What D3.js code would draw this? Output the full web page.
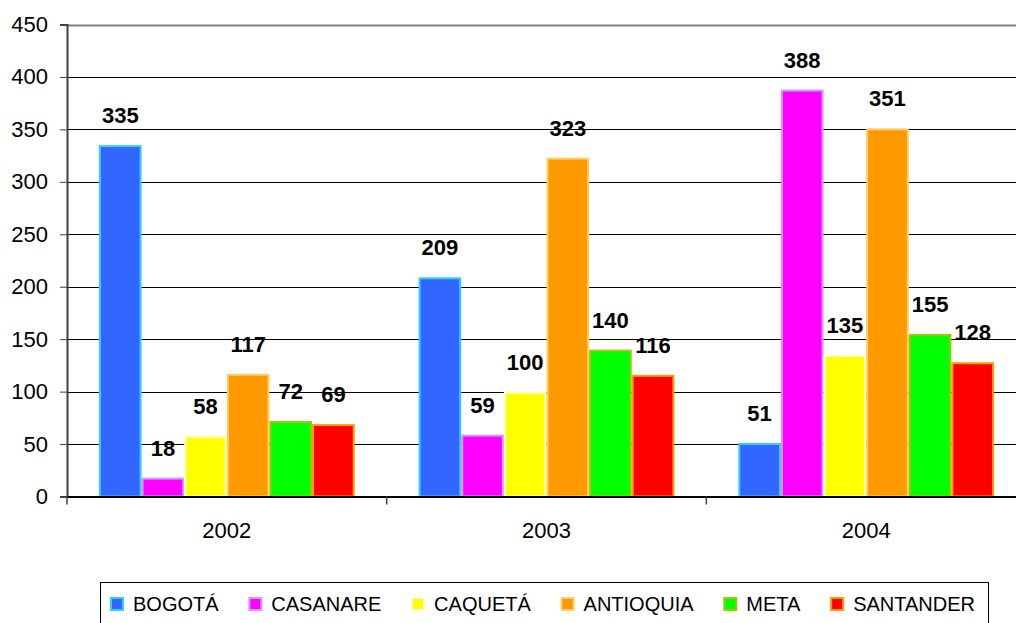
<!DOCTYPE html>
<html>
<head>
<meta charset="utf-8">
<script src="https://cdn.jsdelivr.net/npm/d3@7"></script>
<style>
  body { margin: 0; background: #fff; }
  svg { display: block; font-family: "Liberation Sans", Arial, sans-serif; }
</style>
</head>
<body>
<svg width="1016" height="623"></svg>
<script>
"use strict";

// data
var years = ["2002", "2003", "2004"];
var regions = ["BOGOTÁ", "CASANARE", "CAQUETÁ", "ANTIOQUIA", "META", "SANTANDER"];
var bogota    = [335, 209, 51];
var casanare  = [18, 59, 388];
var caqueta   = [58, 100, 135];
var antioquia = [117, 323, 351];
var meta      = [72, 140, 155];
var santander = [69, 116, 128];
var yTicks = [0, 50, 100, 150, 200, 250, 300, 350, 400, 450];

var fills   = ["#3366FF", "#FF00FF", "#FFFF00", "#FF9900", "#00FF00", "#FF0000"];
var strokes = ["#33CCFF", "#CC99FF", "#FFFFCC", "#FFCC66", "#99CC00", "#FF9900"];

var series = [bogota, casanare, caqueta, antioquia, meta, santander];
var rows = [];
years.forEach(function(y, i) {
  regions.forEach(function(r, j) {
    rows.push({year: y, region: r, value: series[j][i]});
  });
});

var margin = {left: 67, top: 24.5, right: -10, bottom: 126.5};
var width = 1016, height = 623;

var svg = d3.select("svg");

var x0 = d3.scaleBand()
    .domain(years)
    .range([margin.left, width - margin.right]);

// excel gap width 150% -> half a gap on each side of the cluster
var bw = x0.bandwidth() / (regions.length + 1.5);
var x1 = d3.scaleBand()
    .domain(regions)
    .range([0.75 * bw, x0.bandwidth() - 0.75 * bw]);

var y = d3.scaleLinear()
    .domain([0, 450])
    .range([height - margin.bottom, margin.top]);

// gridlines
svg.append("g")
  .selectAll("line")
  .data(yTicks.slice(1))
  .join("line")
    .attr("x1", margin.left)
    .attr("x2", width)
    .attr("y1", d => Math.round(y(d)) + 0.5)
    .attr("y2", d => Math.round(y(d)) + 0.5)
    .attr("stroke", d => d === 450 ? "#808080" : "#000")
    .attr("stroke-width", d => d === 450 ? 2 : 1);

// bars
svg.append("g")
  .selectAll("rect")
  .data(rows)
  .join("rect")
    .attr("x", d => x0(d.year) + x1(d.region) + 1)
    .attr("y", d => y(d.value) + 1)
    .attr("width", x1.bandwidth() - 2)
    .attr("height", d => y(0) - y(d.value) - 1)
    .attr("fill", d => fills[regions.indexOf(d.region)])
    .attr("stroke", d => strokes[regions.indexOf(d.region)])
    .attr("stroke-width", 2);

// value labels
svg.append("g")
  .selectAll("text")
  .data(rows)
  .join("text")
    .attr("x", d => x0(d.year) + x1(d.region) + x1.bandwidth() / 2)
    .attr("y", d => y(d.value) - 22)
    .attr("text-anchor", "middle")
    .attr("font-size", 22)
    .attr("font-weight", "bold")
    .attr("fill", "#000")
    .text(d => d.value);

// y axis
var yAxis = svg.append("g")
    .attr("transform", `translate(${margin.left},0)`)
    .call(d3.axisLeft(y).tickValues(yTicks).tickSize(7).tickPadding(12));
yAxis.select(".domain").attr("stroke", "#404040").attr("stroke-width", 2);
yAxis.selectAll(".tick line").attr("stroke", "#404040");
yAxis.selectAll(".tick text")
    .attr("font-size", 22)
    .attr("font-family", "Liberation Sans, Arial, sans-serif")
    .attr("fill", "#000");

// x axis
var xAxis = svg.append("g")
    .attr("transform", `translate(0,${y(0)})`)
    .call(d3.axisBottom(x0).tickSize(0).tickPadding(26));
xAxis.select(".domain").attr("stroke", "#000").attr("stroke-width", 2);
xAxis.selectAll(".tick text")
    .attr("font-size", 22)
    .attr("font-family", "Liberation Sans, Arial, sans-serif")
    .attr("fill", "#000");
xAxis.selectAll(".sep")
  .data(years.concat(["end"]))
  .join("line")
    .attr("class", "sep")
    .attr("x1", (d, i) => x0.range()[0] + i * x0.step())
    .attr("x2", (d, i) => x0.range()[0] + i * x0.step())
    .attr("y1", 0)
    .attr("y2", 8)
    .attr("stroke", "#404040")
    .attr("stroke-width", 1.5);

// legend
var legend = svg.append("g");
legend.append("rect")
    .attr("x", 100.5)
    .attr("y", 582.5)
    .attr("width", 888)
    .attr("height", 60)
    .attr("fill", "#fff")
    .attr("stroke", "#000");

var items = regions.map(function(r, i) {
  var item = legend.append("g");
  item.append("rect")
      .attr("x", 1).attr("y", 598)
      .attr("width", 12).attr("height", 12)
      .attr("fill", fills[i])
      .attr("stroke", strokes[i])
      .attr("stroke-width", 2);
  var t = item.append("text")
      .attr("x", 23)
      .attr("y", 611)
      .attr("font-size", 20)
      .attr("fill", "#000")
      .text(r);
  return {g: item, w: 23 + t.node().getComputedTextLength()};
});
// spread the entries over the box like excel does
var lStart = 110, lEnd = 975;
var gap = (lEnd - lStart - d3.sum(items, d => d.w)) / (items.length - 1);
var lx = lStart;
items.forEach(function(it) {
  it.g.attr("transform", `translate(${lx},0)`);
  lx += it.w + gap;
});
</script>
</body>
</html>
